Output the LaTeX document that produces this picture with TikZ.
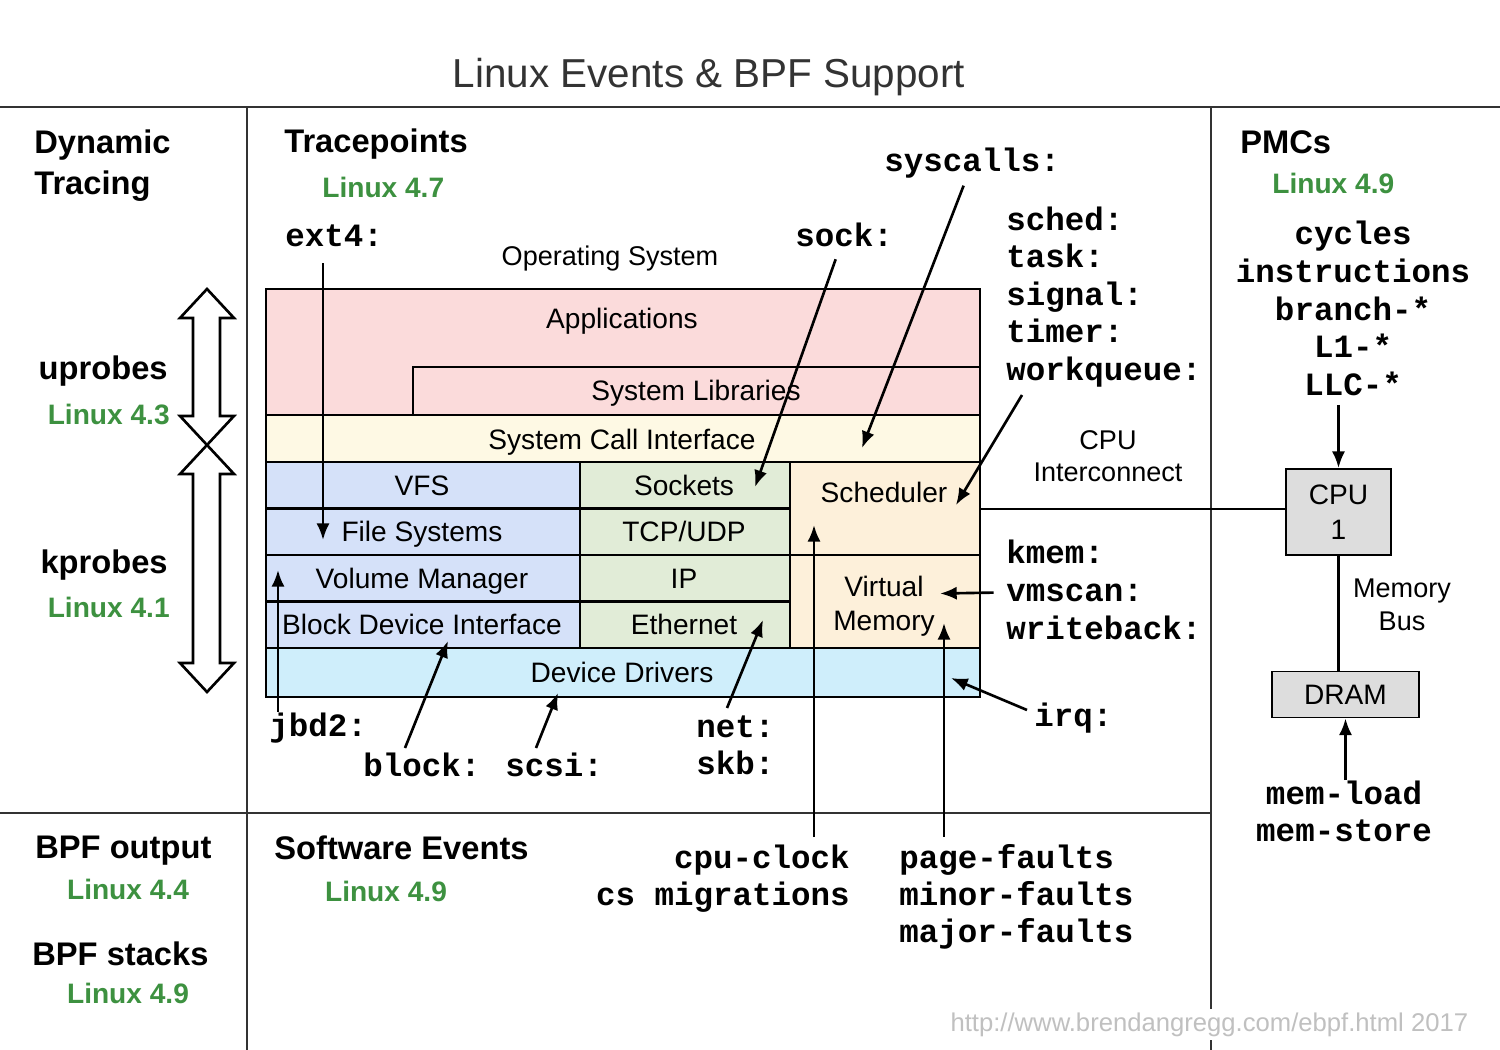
\documentclass[tikz,border=0pt]{standalone}
\usepackage{fontspec}
\setmainfont{Liberation Sans}
\setmonofont{Liberation Mono}
\usetikzlibrary{arrows.meta}

\definecolor{appcol}{RGB}{251,219,219}
\definecolor{sciscol}{RGB}{254,249,228}
\definecolor{fscol}{RGB}{213,225,249}
\definecolor{netcol}{RGB}{225,236,215}
\definecolor{kerncol}{RGB}{253,240,218}
\definecolor{drvcol}{RGB}{207,238,251}
\definecolor{hwcol}{RGB}{221,221,221}
\definecolor{vercol}{RGB}{61,145,64}
\definecolor{urlcol}{RGB}{192,192,192}

\begin{document}
\begin{tikzpicture}[x=0.02cm,y=-0.02cm,
	>={Latex[length=9.5pt,width=7.5pt]},
	lbl/.style={inner sep=0pt,font=\fontsize{16}{19.3}\selectfont},
	note/.style={inner sep=0pt,font=\fontsize{15.4}{18.5}\selectfont},
	hdr/.style={inner sep=0pt,font=\fontsize{18.6}{23.3}\selectfont\bfseries},
	ver/.style={inner sep=0pt,text=vercol,font=\fontsize{16}{19}\selectfont\bfseries},
	ev/.style={inner sep=0pt,font=\fontsize{18.5}{21}\selectfont\ttfamily\bfseries},
	hw/.style={draw,fill=hwcol,line width=1.1pt,inner sep=0pt,align=center,font=\fontsize{16}{20}\selectfont},
	slab/.style={line width=1.2pt},
	bus/.style={line width=1.4pt},
	divider/.style={line width=1.2pt,draw=black!80},
	pointer/.style={->,line width=1.5pt}]
\useasboundingbox (0,0) rectangle (1500,1050);

% frame
\draw [divider] (0,107) -- (1500,107);
\draw [divider] (0,813) -- (1211,813);
\draw [divider] (247,107) -- (247,1050);
\draw [divider] (1211,107) -- (1211,1050);
\node [inner sep=0pt, anchor=base, text=black!80, font=\fontsize{23}{28}\selectfont] (title) at (709,88) {Linux Events \& BPF Support};

% operating system stack
\draw [slab, fill=appcol] (266,289) rectangle (980,415);
\draw [slab, fill=appcol] (413,367) rectangle (980,415);
\draw [slab, fill=sciscol] (266,415) rectangle (980,462);
\foreach \y/\n/\txt in {462/vfs/VFS, 508.5/fsys/File Systems, 555/volmgr/Volume Manager, 601.5/bdi/Block Device Interface}
{
	\draw [slab, fill=fscol] (266,\y) rectangle (580,\y+46.5);
	\node [lbl, anchor=base] (\n) at (422,\y+33) {\txt};
}
\foreach \y/\n/\txt in {462/sockets/Sockets, 508.5/tcpudp/{TCP/UDP}, 555/ipl/IP, 601.5/eth/Ethernet}
{
	\draw [slab, fill=netcol] (580,\y) rectangle (790,\y+46.5);
	\node [lbl, anchor=base] (\n) at (684,\y+33) {\txt};
}
\draw [slab, fill=kerncol] (790,462) rectangle (980,555);
\draw [slab, fill=kerncol] (790,555) rectangle (980,648);
\draw [slab, fill=drvcol] (266,648) rectangle (980,697);

\node [note, anchor=base] (os) at (610,266) {Operating System};
\node [lbl, anchor=base] (apps) at (622,329) {Applications};
\node [lbl, anchor=base] (syslibs) at (696,401) {System Libraries};
\node [lbl, anchor=base] (sci) at (622,449) {System Call Interface};
\node [lbl, anchor=base] (sched) at (884,502) {Scheduler};
\node [lbl, align=center] (vm) at (884,606) {Virtual\\Memory};
\node [lbl, anchor=base] (drivers) at (622,682) {Device Drivers};

% dynamic tracing arrows
\foreach \t/\b in {289/445, 445/692}
	\draw [line width=1.5pt, fill=white, line join=miter] (207,\t) -- (234,\t+29) -- (220,\t+29) -- (220,\b-29) -- (234,\b-29) -- (207,\b) -- (180,\b-29) -- (193,\b-29) -- (193,\t+29) -- (180,\t+29) -- cycle;

% headings
\node [hdr, anchor=west, align=left] (dyntr) at (34,166) {Dynamic\\Tracing};
\node [hdr, anchor=base east] (uprobes) at (168,380) {uprobes};
\node [ver, anchor=base east] (uprobesver) at (170,424) {Linux 4.3};
\node [hdr, anchor=base east] (kprobes) at (168,573) {kprobes};
\node [ver, anchor=base east] (kprobesver) at (170,617) {Linux 4.1};
\node [hdr, anchor=base west] (tracepts) at (284,153) {Tracepoints};
\node [ver, anchor=base west] (tracever) at (322,198) {Linux 4.7};
\node [hdr, anchor=base west] (pmcs) at (1240,154) {PMCs};
\node [ver, anchor=base west] (pmcver) at (1272,194) {Linux 4.9};
\node [hdr, anchor=base west] (bpfout) at (35,858) {BPF output};
\node [ver, anchor=base] (bpfoutver) at (128,899) {Linux 4.4};
\node [hdr, anchor=base west] (bpfstk) at (32,965) {BPF stacks};
\node [ver, anchor=base] (bpfstkver) at (128,1003) {Linux 4.9};
\node [hdr, anchor=base west] (swev) at (274,859) {Software Events};
\node [ver, anchor=base] (swever) at (386,901) {Linux 4.9};

% tracepoints
\node [ev, anchor=base west] (ext4) at (285,247) {ext4:};
\node [ev, anchor=base west] (sock) at (795,247) {sock:};
\node [ev, anchor=base west] (syscalls) at (884,172) {syscalls:};
\foreach \n [count=\k from 0] in {sched,task,signal,timer,workqueue}
	\node [ev, anchor=base west] (tp-\n) at (1006,230.5+37.5*\k) {\n:};
\foreach \n [count=\k from 0] in {kmem,vmscan,writeback}
	\node [ev, anchor=base west] (tp-\n) at (1006,563+38*\k) {\n:};
\node [ev, anchor=base west] (irq) at (1034,726) {irq:};
\node [ev, anchor=base west] (jbd2) at (269,736) {jbd2:};
\node [ev, anchor=base west] (block) at (363,776) {block:};
\node [ev, anchor=base west] (scsi) at (505,776) {scsi:};
\node [ev, anchor=base west] (net) at (696,737) {net:};
\node [ev, anchor=base west] (skb) at (696,774) {skb:};

% software events
\node [ev, anchor=base east] (cpuclock) at (850,868) {cpu-clock};
\node [ev, anchor=base east] (csmig) at (850,905) {cs migrations};
\foreach \txt [count=\k from 0] in {page,minor,major}
	\node [ev, anchor=base west] (\txt-faults) at (899,868+37*\k) {\txt-faults};

% hardware
\foreach \txt [count=\k from 0] in {cycles,instructions,branch-*,L1-*,LLC-*}
	\node [ev, anchor=base] (pmc\k) at (1353,245+37.6*\k) {\txt};
\node [note, align=center] (icx) at (1108,456) {CPU\\Interconnect};
\node [note, align=center] (membus) at (1402,605) {Memory\\Bus};
\node [hw, minimum width=2.1cm, minimum height=1.72cm] (cpu) at (1338.5,512) {CPU\\1};
\node [hw, minimum width=2.94cm, minimum height=0.92cm] (dram) at (1345.5,694.5) {DRAM};
\node [ev, anchor=base] (memload) at (1344,804) {mem-load};
\node [ev, anchor=base] (memstore) at (1344,841.5) {mem-store};
\coordinate (os-east) at (980,509);
\draw [bus] (os-east) -- (os-east -| cpu.west);
\draw [bus] (cpu.south) -- (cpu.south |- dram.north);

% pointers
\coordinate (fs-tip) at (323,540);
\coordinate (sock-tip) at (755,487);
\coordinate (sci-tip) at (862,448);
\coordinate (sched-tip) at (956,505);
\coordinate (jbd2-tip) at (278,570);
\coordinate (bdi-tip) at (448,641);
\coordinate (drv-tip) at (558,693);
\coordinate (eth-tip) at (763,620);
\coordinate (cpu-tip) at (814,525);
\coordinate (pf-tip) at (944,623);
\coordinate (vm-tip) at (940,593.5);
\coordinate (irq-tip) at (951,678);
\coordinate (wq-tail) at (1022,395);
\coordinate (block-tail) at (405,748);
\coordinate (scsi-tail) at (536,748);
\coordinate (net-tail) at (727,708);
\coordinate (irq-tail) at (1027,710);

\draw [pointer, shorten <=9pt] (fs-tip |- ext4.south) -- (fs-tip);
\draw [pointer, shorten <=7pt] (sock) -- (sock-tip);
\draw [pointer, shorten <=4pt] (syscalls) -- (sci-tip);
\draw [pointer] (wq-tail) -- (sched-tip);
\draw [pointer] (jbd2-tip |- jbd2.north) -- (jbd2-tip);
\draw [pointer] (block-tail) -- (bdi-tip);
\draw [pointer] (scsi-tail) -- (drv-tip);
\draw [pointer] (net-tail) -- (eth-tip);
\draw [pointer, shorten <=4pt] (cpu-tip |- cpuclock.north) -- (cpu-tip);
\draw [pointer, shorten <=4pt] (pf-tip |- page-faults.north) -- (pf-tip);
\draw [pointer, shorten <=7pt] (tp-vmscan.west) -- (vm-tip);
\draw [pointer] (irq-tail) -- (irq-tip);
\draw [pointer, shorten <=5pt] (cpu.north |- pmc4.south) -- (cpu.north);
\draw [pointer] (memload.north -| dram.south) -- (dram.south);

\node [inner sep=2pt, fill=white, text=urlcol, anchor=base east, font=\fontsize{14.6}{17}\selectfont] (url) at (1472,1031) {http://www.brendangregg.com/ebpf.html 2017};
\end{tikzpicture}
\end{document}
